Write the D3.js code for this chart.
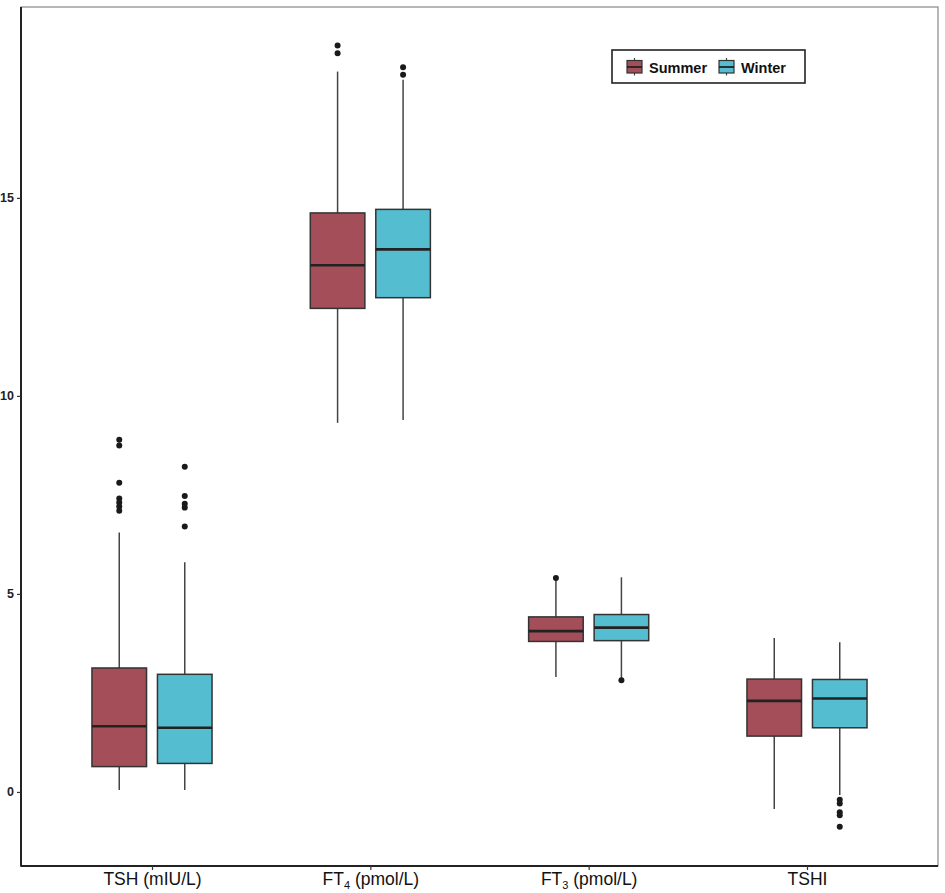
<!DOCTYPE html>
<html><head><meta charset="utf-8">
<script src="https://cdn.jsdelivr.net/npm/d3@7"></script>
<style>body{margin:0;background:#fff}svg{display:block}</style>
</head><body>
<script>
const categories = ["TSH", "FT4", "FT3", "TSHI"];
const groups = ["Summer", "Winter"];
const groupColors = ["#A34E58", "#55BDD0"];
// [lowerWhisker, q1, median, q3, upperWhisker]
const summerStats = [
  [0.05, 0.64, 1.66, 3.13, 6.55],
  [9.32, 12.21, 13.30, 14.62, 18.19],
  [2.90, 3.80, 4.06, 4.42, 5.36],
  [-0.43, 1.41, 2.30, 2.85, 3.89]
];
const winterStats = [
  [0.05, 0.72, 1.62, 2.97, 5.80],
  [9.39, 12.48, 13.70, 14.71, 17.98],
  [2.87, 3.82, 4.15, 4.48, 5.42],
  [-0.08, 1.62, 2.36, 2.84, 3.78]
];
const summerOutliers = [
  [8.89, 8.75, 7.81, 7.41, 7.31, 7.21, 7.10],
  [18.85, 18.65],
  [5.40],
  []
];
const winterOutliers = [
  [8.21, 7.47, 7.28, 7.18, 6.70],
  [18.30, 18.11],
  [2.82],
  [-0.20, -0.29, -0.51, -0.59, -0.88]
];
const yTicks = [0, 5, 10, 15];
const yDomain = [-1.87, 19.82];

const W = 945, H = 893;
const margin = {left: 21, right: 7, top: 7, bottom: 27};
const svg = d3.select("body").append("svg").attr("width", W).attr("height", H);

const x = d3.scalePoint().domain(categories).range([margin.left, W - margin.right]).padding(0.6);
const y = d3.scaleLinear().domain(yDomain).range([H - margin.bottom, margin.top]);
const step = x.step();
const boxW = step * 0.25;
const dodge = step * 0.15;

// panel frame (top/right light)
svg.append("rect").attr("x", margin.left).attr("y", margin.top)
  .attr("width", W - margin.right - margin.left).attr("height", H - margin.bottom - margin.top)
  .attr("fill", "none").attr("stroke", "#888").attr("stroke-width", 1.2);

const statsByGroup = [summerStats, winterStats];
const outByGroup = [summerOutliers, winterOutliers];

groups.forEach((g, gi) => {
  const off = gi === 0 ? -dodge : dodge;
  const gg = svg.append("g");
  categories.forEach((c, ci) => {
    const s = statsByGroup[gi][ci];
    const cx = x(c) + off;
    gg.append("line").attr("x1", cx).attr("x2", cx).attr("y1", y(s[0])).attr("y2", y(s[1]))
      .attr("stroke", "#444").attr("stroke-width", 1.5);
    gg.append("line").attr("x1", cx).attr("x2", cx).attr("y1", y(s[3])).attr("y2", y(s[4]))
      .attr("stroke", "#444").attr("stroke-width", 1.5);
    gg.append("rect").attr("x", cx - boxW / 2).attr("y", y(s[3]))
      .attr("width", boxW).attr("height", y(s[1]) - y(s[3]))
      .attr("fill", groupColors[gi]).attr("stroke", "#333").attr("stroke-width", 1.5);
    gg.append("line").attr("x1", cx - boxW / 2).attr("x2", cx + boxW / 2)
      .attr("y1", y(s[2])).attr("y2", y(s[2]))
      .attr("stroke", "#222").attr("stroke-width", 2.6);
    outByGroup[gi][ci].forEach(v => {
      gg.append("circle").attr("cx", cx).attr("cy", y(v)).attr("r", 3).attr("fill", "#1a1a1a");
    });
  });
});

svg.append("line").attr("x1", margin.left).attr("x2", margin.left)
  .attr("y1", margin.top).attr("y2", H - margin.bottom + 0.5).attr("stroke", "#222").attr("stroke-width", 2);
svg.append("line").attr("x1", margin.left).attr("x2", W - margin.right)
  .attr("y1", H - margin.bottom).attr("y2", H - margin.bottom).attr("stroke", "#222").attr("stroke-width", 2);

const yAxis = svg.append("g").attr("transform", `translate(${margin.left},0)`)
  .call(d3.axisLeft(y).tickValues(yTicks).tickSize(4).tickPadding(3).tickFormat(d3.format("d")));
yAxis.select(".domain").remove();
yAxis.selectAll(".tick line").attr("stroke", "#333").attr("stroke-width", 1.2);
yAxis.selectAll(".tick text").attr("fill", "#222")
  .style("font-family", "Liberation Sans, Arial, sans-serif").style("font-size", "12.5px").style("font-weight", "bold");

const xLabels = {
  "TSH": [["TSH (mIU/L)", null]],
  "FT4": [["FT", null], ["4", "sub"], [" (pmol/L)", null]],
  "FT3": [["FT", null], ["3", "sub"], [" (pmol/L)", null]],
  "TSHI": [["TSHI", null]]
};
const xAxis = svg.append("g").attr("transform", `translate(0,${H - margin.bottom})`)
  .call(d3.axisBottom(x).tickSize(4).tickFormat(""));
xAxis.select(".domain").remove();
xAxis.selectAll(".tick line").attr("stroke", "#333").attr("stroke-width", 1.2);
xAxis.selectAll(".tick").each(function(d) {
  const t = d3.select(this).append("text").attr("y", 19).attr("text-anchor", "middle")
    .attr("fill", "#111").style("font-family", "Liberation Sans, Arial, sans-serif")
    .style("font-size", "17.5px").attr("xml:space", "preserve");
  xLabels[d].forEach(([txt, kind]) => {
    const ts = t.append("tspan").text(txt);
    if (kind === "sub") ts.attr("dy", 4).style("font-size", "11px");
    else if (t.selectAll("tspan").size() > 1) ts.attr("dy", -4);
  });
});

const lg = svg.append("g").attr("transform", "translate(612,50)");
lg.append("rect").attr("width", 193).attr("height", 33).attr("fill", "#fff")
  .attr("stroke", "#222").attr("stroke-width", 1.6);
const keyX = [15, 107];
groups.forEach((g, gi) => {
  const k = lg.append("g").attr("transform", `translate(${keyX[gi]},8)`);
  k.append("line").attr("x1", 7.5).attr("x2", 7.5).attr("y1", 0).attr("y2", 17.5).attr("stroke", "#444").attr("stroke-width", 1.2);
  k.append("rect").attr("x", 0).attr("y", 2.5).attr("width", 15).attr("height", 12.5)
    .attr("fill", groupColors[gi]).attr("stroke", "#333").attr("stroke-width", 1.2);
  k.append("line").attr("x1", 0).attr("x2", 15).attr("y1", 9).attr("y2", 9).attr("stroke", "#222").attr("stroke-width", 1.8);
  k.append("text").attr("x", 22).attr("y", 14.5).text(g)
    .attr("fill", "#111").style("font-family", "Liberation Sans, Arial, sans-serif")
    .style("font-size", "14.5px").style("font-weight", "bold");
});
</script>
</body></html>
